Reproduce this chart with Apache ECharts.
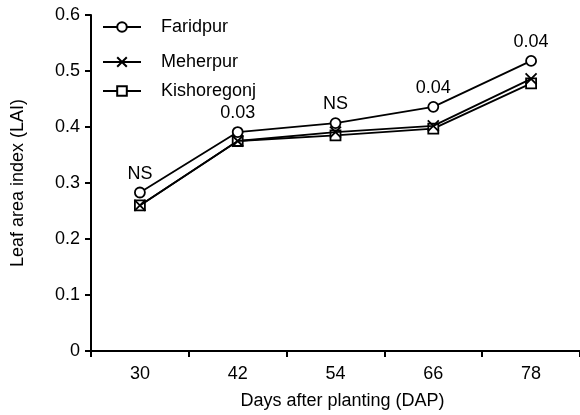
<!DOCTYPE html>
<html>
<head>
<meta charset="utf-8">
<script src="https://cdn.jsdelivr.net/npm/echarts@6/dist/echarts.min.js"></script>
<style>
  html, body { margin: 0; padding: 0; background: #fff; }
  #chart { width: 580px; height: 415px; }
</style>
</head>
<body>
<div id="chart"></div>
<script>
// Days after planting
const days = ['30', '42', '54', '66', '78'];
// Leaf area index per location
const faridpur = [0.283, 0.391, 0.407, 0.436, 0.518];
const meherpur = [0.260, 0.375, 0.391, 0.402, 0.486];
const kishoregonj = [0.260, 0.375, 0.385, 0.397, 0.478];
// Significance notes above each date
const notes = ['NS', '0.03', 'NS', '0.04', '0.04'];
const seriesNames = ['Faridpur', 'Meherpur', 'Kishoregonj'];

const font = 'Liberation Sans, Arial, sans-serif';
const fontSize = 18;
const crossPath = 'path://M0,0L10,10M10,0L0,10';

function lineSeries(name, data, symbol, size, z) {
  return {
    name: name,
    type: 'line',
    data: data,
    symbol: symbol,
    symbolSize: size,
    z: z,
    lineStyle: { color: '#000', width: 1.8 },
    itemStyle: { color: '#fff', borderColor: '#000', borderWidth: 1.8 },
    emphasis: { disabled: true },
    animation: false
  };
}

const series = [
  lineSeries(seriesNames[2], kishoregonj, 'rect', 10, 2),
  lineSeries(seriesNames[1], meherpur, crossPath, 11, 3),
  Object.assign(lineSeries(seriesNames[0], faridpur, 'circle', 10, 4), {
    label: {
      show: true,
      position: 'top',
      distance: 4,
      color: '#000',
      fontFamily: font,
      fontSize: fontSize,
      formatter: p => notes[p.dataIndex]
    }
  })
];

function legendAt(name, top) {
  return {
    data: [name],
    left: 97,
    top: top,
    itemWidth: 38,
    itemHeight: 12,
    itemGap: 0,
    selectedMode: false,
    textStyle: { fontFamily: font, fontSize: fontSize, color: '#000', padding: [0, 0, 0, 15] }
  };
}

const chart = echarts.init(document.getElementById('chart'), null, { renderer: 'canvas' });
chart.setOption({
  backgroundColor: '#fff',
  animation: false,
  legend: [
    legendAt(seriesNames[0], 13),
    legendAt(seriesNames[1], 48),
    legendAt(seriesNames[2], 77)
  ],
  grid: { left: 91, right: 0, top: 15, bottom: 63, containLabel: false },
  xAxis: {
    type: 'category',
    data: days,
    boundaryGap: true,
    name: 'Days after planting (DAP)',
    nameLocation: 'middle',
    nameGap: 41,
    nameTextStyle: { fontFamily: font, fontSize: fontSize, color: '#000', padding: [0, 0, 0, 14] },
    axisLine: { lineStyle: { color: '#000', width: 2 } },
    axisTick: { show: true, length: 6, lineStyle: { color: '#000', width: 2 } },
    axisLabel: { fontFamily: font, fontSize: fontSize, color: '#000', margin: 14 },
    splitLine: { show: false }
  },
  yAxis: {
    type: 'value',
    min: 0,
    max: 0.6,
    interval: 0.1,
    name: 'Leaf area index (LAI)',
    nameLocation: 'middle',
    nameGap: 64,
    nameTextStyle: { fontFamily: font, fontSize: fontSize, color: '#000', padding: [0, 0, 0, 0] },
    axisLine: { show: true, lineStyle: { color: '#000', width: 2 } },
    axisTick: { show: true, length: 6, lineStyle: { color: '#000', width: 2 } },
    axisLabel: {
      fontFamily: font, fontSize: fontSize, color: '#000', margin: 11,
      formatter: v => (v === 0 ? '0' : v.toFixed(1))
    },
    splitLine: { show: false }
  },
  series: series
});
</script>
</body>
</html>
